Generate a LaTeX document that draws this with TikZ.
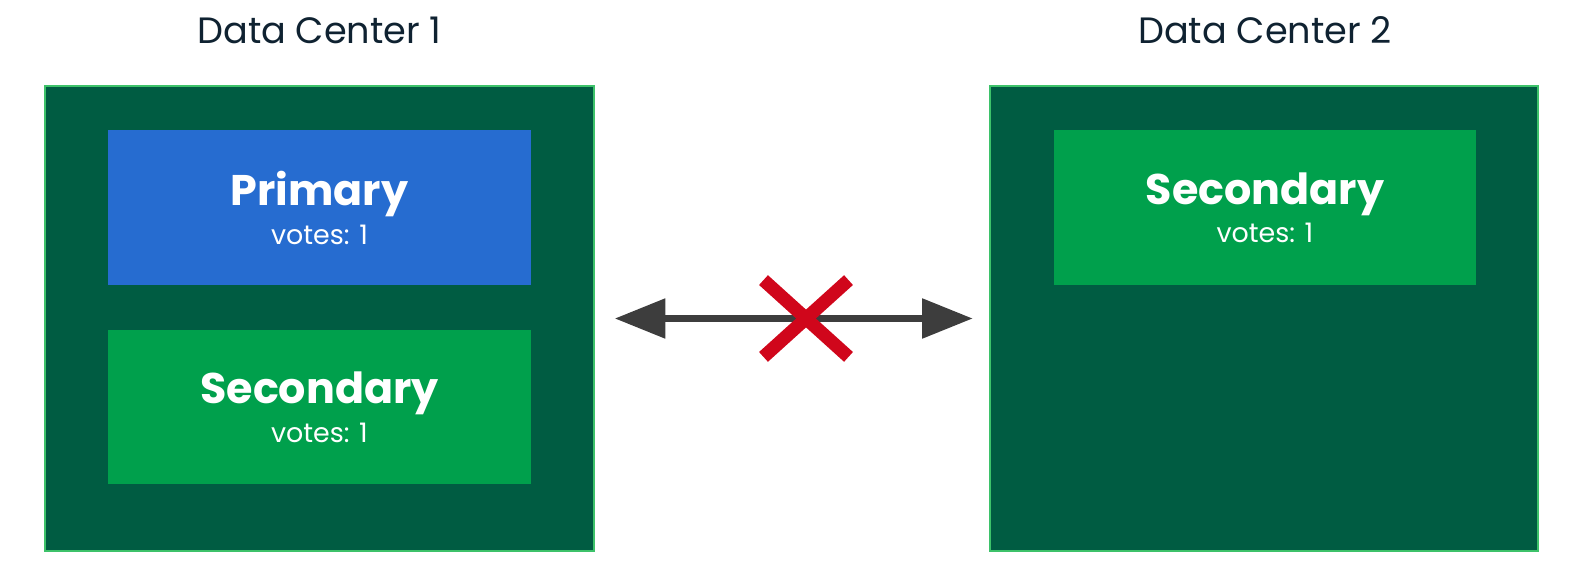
\documentclass[tikz,border=0pt]{standalone}
\usepackage{fontspec}
\setmainfont{Poppins}
\usetikzlibrary{arrows.meta}

\definecolor{dcgreen}{HTML}{005C42}
\definecolor{dcborder}{HTML}{3DC26A}
\definecolor{primblue}{HTML}{266CD0}
\definecolor{secgreen}{HTML}{00A04C}
\definecolor{linkgray}{HTML}{3D3D3D}
\definecolor{cutred}{HTML}{D0061B}
\definecolor{titleink}{HTML}{0F2231}

\begin{document}
\begin{tikzpicture}[x=0.5bp, y=-0.5bp]
	\tikzstyle{Center} = [draw=dcborder, fill=dcgreen, line width=1bp, minimum width=274bp, minimum height=232.5bp, inner sep=0pt]
	\tikzstyle{Member} = [minimum width=211.4bp, minimum height=77.4bp, inner sep=0pt, text=white, align=center, font=\fontsize{13.5}{19.5}\selectfont]
	\tikzstyle{Title} = [text=titleink, font=\fontsize{18.4}{22}\selectfont]
	\tikzstyle{Link} = [draw=linkgray, line width=3.6bp, {Triangle[length=25.3bp, width=19.2bp]}-{Triangle[length=25.3bp, width=19.2bp]}, shorten <=10.1bp, shorten >=8.1bp]
	\tikzstyle{Cut} = [draw=cutred, line width=6.6bp]
	
	\useasboundingbox (0,0) rectangle (1583,566);
	
	\node[name=dc1, Center] at (319.5,318.5) {};
	\node[name=dc2, Center] at (1264,318.5) {};
	\node[name=t1, Title] at (319.5,30.3) {Data Center 1};
	\node[name=t2, Title] at (1265,30.3) {Data Center 2};
	
	% members, name and votes in one node
	\node[name=primary, Member, fill=primblue] at (319.5,207.8) {{\bfseries\fontsize{21.5}{24}\selectfont Primary}\\votes: 1};
	\node[name=sec1, Member, fill=secgreen] at (319.5,407) {{\bfseries\fontsize{21.5}{24}\selectfont Secondary}\\votes: 1};
	\node[name=sec2, Member, fill=secgreen] at (1265,207.8) {{\bfseries\fontsize{21.5}{24}\selectfont Secondary}\\votes: 1};
	
	\draw[Link] (dc1) -- (dc2);
	
	% broken link
	\coordinate (cut) at (806,318.5);
	\draw[Cut] (cut) ++(-42.5,-38.4) -- ++(85,76.8);
	\draw[Cut] (cut) ++(42.5,-38.4) -- ++(-85,76.8);
\end{tikzpicture}
\end{document}
